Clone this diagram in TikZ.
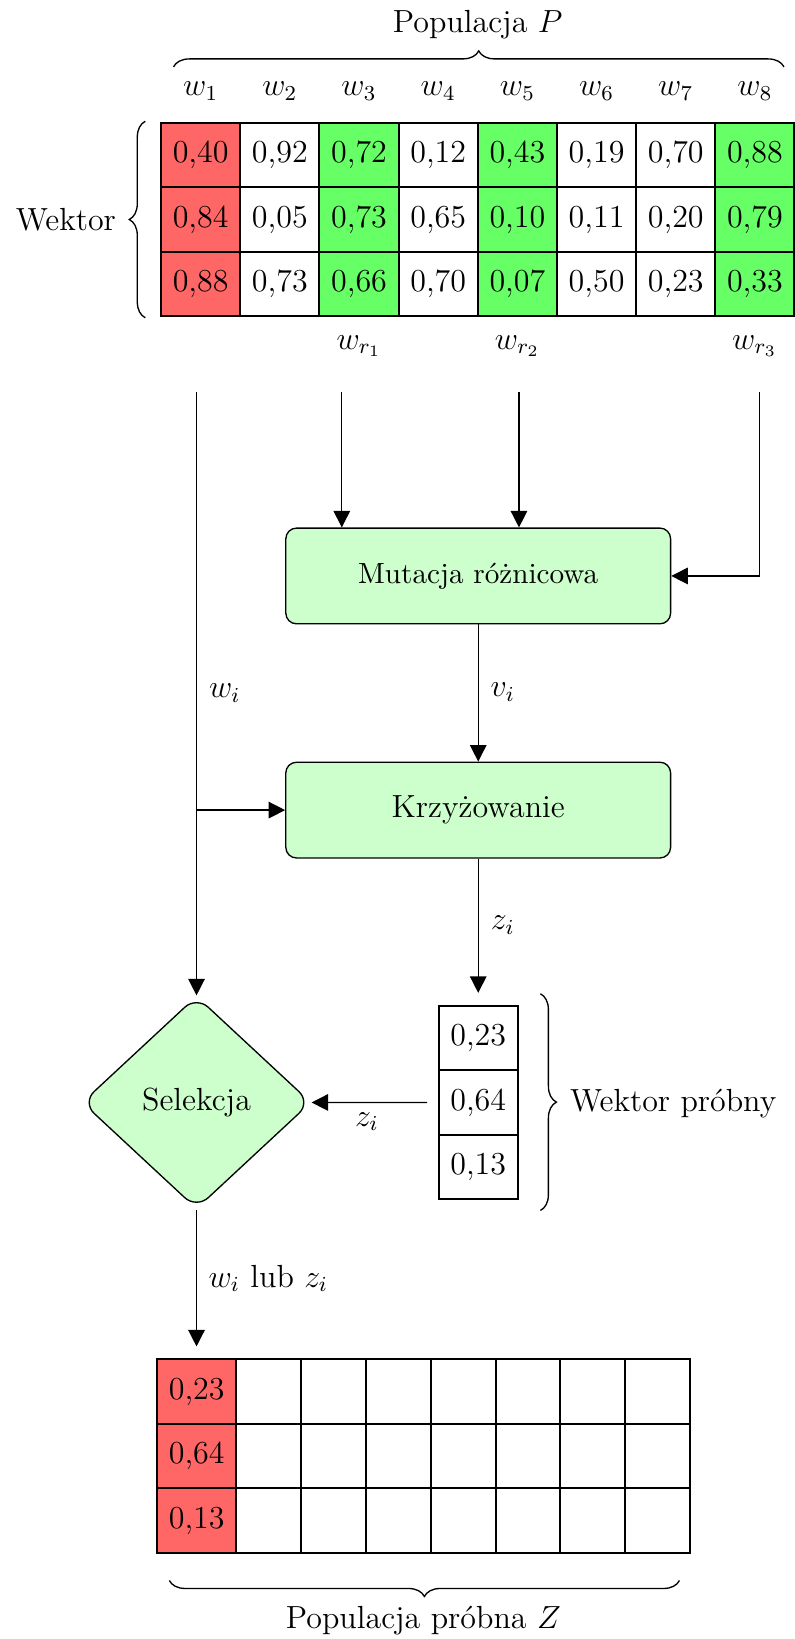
\documentclass[tikz,border=0pt]{standalone}
\usetikzlibrary{arrows.meta,shapes.geometric,decorations.pathreplacing}
\begin{document}
\begin{tikzpicture}[x=0.392pt, y=-0.392pt,
  font=\fontsize{12}{14.5}\selectfont,
  arr/.style={draw, line width=0.5pt, -{Triangle[length=6.2pt,width=6.2pt]}},
  cell/.style={draw, line width=0.7pt, minimum width=29.6pt, minimum height=24.2pt,
    inner sep=1pt, font=\fontsize{12}{14.5}\selectfont},
  blank/.style={cell, minimum width=24.3pt},
  hot/.style={fill=red!60},
  pick/.style={fill=green!60},
  pc1/.style={hot}, pc2/.style={}, pc3/.style={pick}, pc4/.style={},
  pc5/.style={pick}, pc6/.style={}, pc7/.style={}, pc8/.style={pick},
  stepbox/.style={draw, line width=0.5pt, fill=green!20, rounded corners=4pt,
    minimum width=144.3pt, minimum height=35.9pt},
  decide/.style={diamond, draw, line width=0.5pt, fill=green!20, rounded corners=6pt,
    minimum width=85.8pt, minimum height=79.8pt, inner sep=0pt},
  brace/.style={decorate, decoration={brace, amplitude=6pt}, line width=0.5pt},
  lbl/.style={inner sep=0pt}]

% canvas
\fill[white] (0,0) rectangle (760,1568);
\useasboundingbox (0,0) rectangle (760,1568);

% population P
\node (ttl) at (457,24) {Populacja $P$};
\draw[brace] (166,64) -- (750,64);
\foreach \j in {1,...,8}
  \node (w\j) at ({154.1+75.75*(\j-0.5)},87) {$w_{\j}$};

\foreach \val [count=\j] in {40,92,72,12,43,19,70,88}
  \node[cell, pc\j] (p-1-\j) at ({154.1+75.75*(\j-0.5)},148.25) {0,\val};
\foreach \val [count=\j] in {84,05,73,65,10,11,20,79}
  \node[cell, pc\j] (p-2-\j) at ({154.1+75.75*(\j-0.5)},209.95) {0,\val};
\foreach \val [count=\j] in {88,73,66,70,07,50,23,33}
  \node[cell, pc\j] (p-3-\j) at ({154.1+75.75*(\j-0.5)},271.65) {0,\val};

\draw[brace] (139,304) -- (139,116);
\node (wek) at (63,210) {Wektor};

\node (wr1) at (343.5,331) {$w_{r_1}$};
\node (wr2) at (495,331) {$w_{r_2}$};
\node (wr3) at (722,331) {$w_{r_3}$};

% process blocks
\node[stepbox, font=\fontsize{10.95}{13.5}\selectfont] (mut) at (457.5,551) {Mutacja różnicowa};
\node[stepbox] (krz) at (457.5,775) {Krzyżowanie};
\node[decide] (sel) at (188,1054.7) {Selekcja};

% trial vector
\foreach \val [count=\i] in {23,64,13}
  \node[cell] (t-\i) at (457.5,{962.3+61.6*(\i-0.5)}) {0,\val};
\draw[brace] (517,950.7) -- (517,1158);
\node (wp) at (644,1056) {Wektor próbny};

% trial population Z
\foreach \val [count=\i] in {23,64,13} {
  \node[cell, hot] (z-\i-1) at (188.2,{1300.5+61.7*(\i-0.5)}) {0,\val};
  \foreach \j in {2,...,8}
    \node[blank] (z-\i-\j) at ({225.95+62.04*(\j-1.5)},{1300.5+61.7*(\i-0.5)}) {};
}
\draw[brace] (650,1512) -- (162,1512);
\node (pz) at (405,1550) {Populacja próbna $Z$};

% connectors
\coordinate (wtop) at (188,375);
\coordinate (r1) at (327,375);
\coordinate (r2) at (496.5,375);
\coordinate (r3) at (726.5,375);
\coordinate (wfork) at (wtop |- krz.west);

\draw[arr] (wtop) -- (sel.north);
\draw[arr] (wfork) -- (krz.west);
\draw[arr] (r1) -- (r1 |- mut.north);
\draw[arr] (r2) -- (r2 |- mut.north);
\draw[arr] (r3) |- (mut.east);
\draw[arr] (mut.south) -- (krz.north);
\draw[arr, shorten >=4.5pt] (krz.south) -- (t-1.north);
\draw[arr, shorten <=4pt] (t-2.west) -- (sel.east);
\draw[arr, shorten >=4.5pt] (sel.south) -- (sel.south |- z-1-1.north);

% connector labels
\node (lwi) at (215,663) {$w_i$};
\node (lvi) at (481,662) {$v_i$};
\node (lzi) at (481,885) {$z_i$};
\node (lzs) at (351,1073) {$z_i$};
\node[lbl, anchor=west] (lsel) at (199,1223) {$w_i$ lub $z_i$};
\end{tikzpicture}
\end{document}
